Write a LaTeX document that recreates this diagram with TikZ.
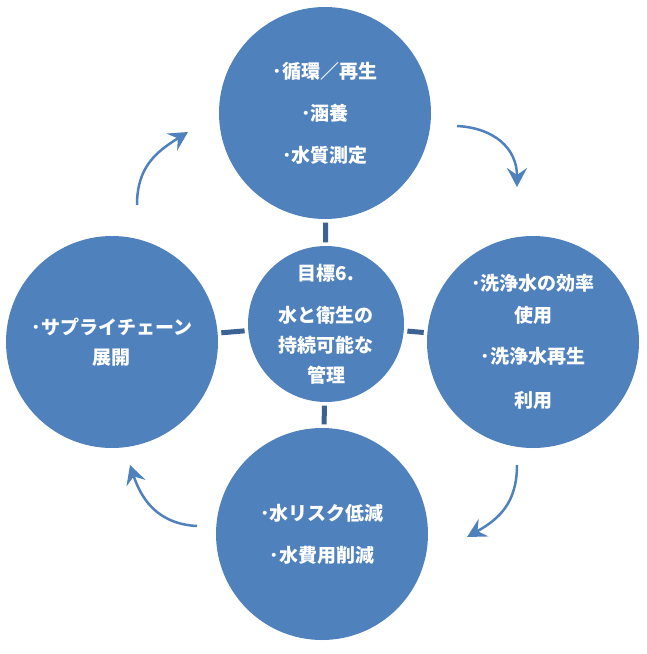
\documentclass[tikz,border=0pt]{standalone}
\usepackage{fontspec}
\setmainfont{Noto Sans CJK JP}
\usetikzlibrary{arrows.meta}
\definecolor{cblue}{RGB}{79,129,189}
\definecolor{sblue}{RGB}{60,98,148}
\begin{document}
\begin{tikzpicture}[x=1pt,y=-1pt,
  bigc/.style={circle, fill=cblue, minimum size=212pt, inner sep=0pt, text=white,
    font=\bfseries\fontsize{19}{30}\selectfont, align=center},
  hubc/.style={bigc, minimum size=156pt},
  stub/.style={draw=sblue, line width=5pt, shorten <=3.5pt, shorten >=3.5pt},
  cyc/.style={draw=cblue, line width=2.5pt, -{Stealth[length=19pt,width=20pt,inset=7pt]}}]
\useasboundingbox (0,0) rectangle (647,654);
\node[bigc] (top) at (325,113) {･循環／再生\\[12pt]･涵養\\[12pt]･水質測定};
\node[bigc] (right) at (533,342) {･洗浄水の効率\\[2pt]使用\\[11pt]･洗浄水再生\\[14pt]利用};
\node[bigc] (bottom) at (322,534) {･水リスク低減\\[12pt]･水費用削減};
\node[bigc] (left) at (112,342) {･サプライチェーン\\展開};
\node[hubc] (hub) at (326,324) {目標6.\\[12pt]水と衛生の\\持続可能な\\管理};
\draw[stub] (hub) -- (top);
\draw[stub] (hub) -- (right);
\draw[stub] (hub) -- (bottom);
\draw[stub] (hub) -- (left);
\coordinate (a1s) at (457,126);
\coordinate (a1e) at (517,187);
\coordinate (a2s) at (517,465);
\coordinate (a2e) at (467,537);
\coordinate (a3s) at (197,526);
\coordinate (a3e) at (130,465);
\coordinate (a4s) at (137,205);
\coordinate (a4e) at (188,132);
\draw[cyc] (a1s) .. controls +(38,2) and +(0,-38) .. (a1e);
\draw[cyc] (a2s) .. controls +(0,38) and +(32,-18) .. (a2e);
\draw[cyc] (a3s) .. controls +(-38,-2) and +(12,36) .. (a3e);
\draw[cyc] (a4s) .. controls +(0,-38) and +(-32,20) .. (a4e);
\end{tikzpicture}
\end{document}
